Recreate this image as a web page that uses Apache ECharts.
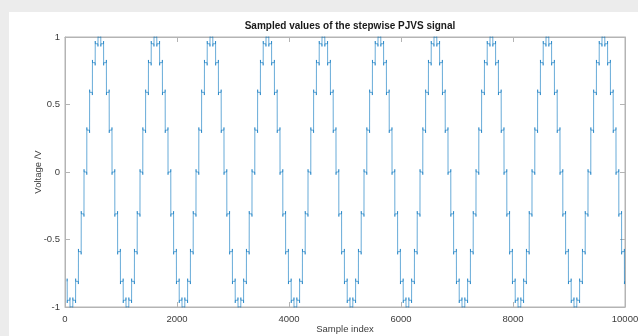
<!DOCTYPE html>
<html>
<head>
<meta charset="utf-8">
<script src="https://cdn.jsdelivr.net/npm/echarts@6/dist/echarts.min.js"></script>
<style>
  html, body { margin: 0; padding: 0; background: #ececec; }
  #wrap { position: relative; width: 638px; height: 336px; overflow: hidden; }
  #panel { position: absolute; left: 9px; top: 12px; right: 0; bottom: 0; background: #ffffff; }
  #chart { position: absolute; left: 0; top: 0; width: 638px; height: 336px; }
</style>
</head>
<body>
<div id="wrap">
  <div id="panel"></div>
  <div id="chart"></div>
</div>
<script>
// Quantised voltage levels of one period of the PJVS staircase (20 steps)
const stepLevels = [0, 0.31, 0.59, 0.81, 0.95, 1, 0.95, 0.81, 0.59, 0.31,
                    0, -0.31, -0.59, -0.81, -0.95, -1, -0.95, -0.81, -0.59, -0.31];
const samplesPerStep = 50;      // samples held on each level
const firstPeriodStart = -660;  // sample index where the 0 V step of the first period begins
const totalSamples = 10000;
const transient = 0.02;         // switching glitch at each step edge, V
const xTicks = [0, 2000, 4000, 6000, 8000, 10000];
const yTicks = [-1, -0.5, 0, 0.5, 1];

// Build the sampled staircase: each step holds its level, with a short
// glitch at its start and end where the array switches.
const data = [];
const nSteps = Math.ceil((totalSamples - firstPeriodStart) / samplesPerStep);
const lvl = j => stepLevels[((j % stepLevels.length) + stepLevels.length) % stepLevels.length];
for (let j = 0; j < nSteps; j++) {
  const s = firstPeriodStart + j * samplesPerStep;
  const e = s + samplesPerStep - 1;
  if (e < 0 || s >= totalSamples) continue;
  const L = lvl(j), P = lvl(j - 1), N = lvl(j + 1);
  const pts = [
    [s, L + transient * Math.sign(L - P)],
    [s + 2, L],
    [e - 2, L],
    [e, L - transient * Math.sign(N - L)]
  ];
  for (const p of pts) {
    if (p[0] >= 0 && p[0] < totalSamples) data.push(p);
  }
}

const chart = echarts.init(document.getElementById('chart'), null, { renderer: 'canvas' });
const font = '"Liberation Sans", Arial, Helvetica, sans-serif';
const axisColor = '#b4b4b4';
const textColor = '#3c3c3c';
const plain = v => String(v);

const boxAxis = {
  axisLine: { show: true, onZero: false, lineStyle: { color: axisColor } },
  axisTick: { show: true, inside: true, length: 5, lineStyle: { color: axisColor } },
  splitLine: { show: false }
};

chart.setOption({
  animation: false,
  backgroundColor: 'transparent',
  title: {
    text: 'Sampled values of the stepwise PJVS signal',
    left: 345, top: 16, textAlign: 'center',
    textStyle: { fontFamily: font, fontSize: 10, fontWeight: 'bold', color: '#1a1a1a' }
  },
  grid: { left: 65, right: 13, top: 37, bottom: 29, containLabel: false, outerBoundsMode: 'none',
          show: true, borderColor: axisColor, borderWidth: 1, backgroundColor: '#ffffff' },
  xAxis: [Object.assign({
    type: 'value', min: xTicks[0], max: xTicks[xTicks.length - 1], interval: 2000,
    name: 'Sample index', nameLocation: 'middle', nameGap: 17, nameMoveOverlap: false,
    nameTextStyle: { fontFamily: font, fontSize: 9.5, color: textColor },
    axisLabel: { fontFamily: font, fontSize: 9.5, color: textColor, margin: 7, formatter: plain }
  }, boxAxis), Object.assign({
    type: 'value', position: 'top', min: xTicks[0], max: xTicks[xTicks.length - 1], interval: 2000,
    axisLabel: { show: false }
  }, boxAxis)],
  yAxis: [Object.assign({
    type: 'value', min: yTicks[0], max: yTicks[yTicks.length - 1], interval: 0.5,
    name: 'Voltage /V', nameLocation: 'middle', nameGap: 22, nameMoveOverlap: false,
    nameTextStyle: { fontFamily: font, fontSize: 9.5, color: textColor },
    axisLabel: { fontFamily: font, fontSize: 9.5, color: textColor, margin: 5, formatter: plain }
  }, boxAxis), Object.assign({
    type: 'value', position: 'right', min: yTicks[0], max: yTicks[yTicks.length - 1], interval: 0.5,
    axisLabel: { show: false }
  }, boxAxis)],
  series: [{
    type: 'line', data: data, xAxisIndex: 0, yAxisIndex: 0,
    showSymbol: false, sampling: null, clip: true,
    lineStyle: { color: '#0072bd', width: 0.6 }
  }]
});
</script>
</body>
</html>
